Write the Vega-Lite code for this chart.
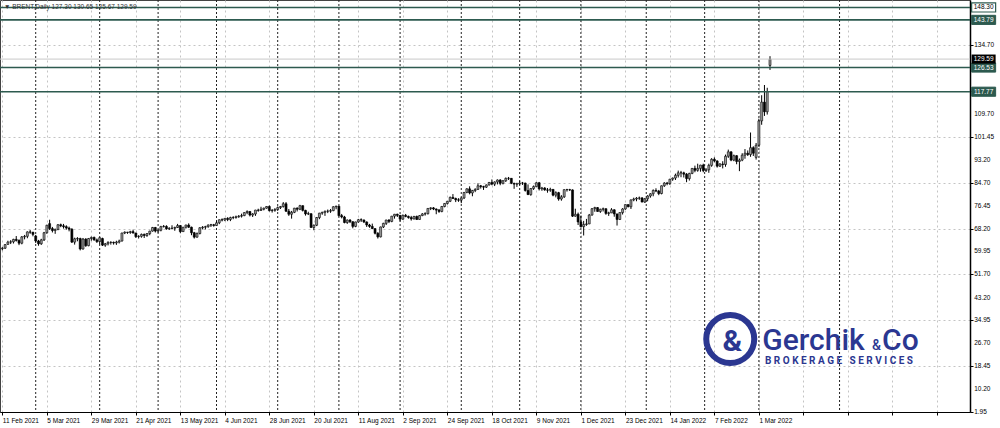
{
  "$schema": "https://vega.github.io/schema/vega-lite/v6.json",
  "width": 970,
  "height": 412,
  "autosize": "none",
  "padding": {"left": 0, "top": 0, "right": 30, "bottom": 16},
  "background": "white",
  "view": {"stroke": "#444", "strokeWidth": 1},
  "config": {"font": "Liberation Sans"},
  "datasets": {
    "candles": [
      {"n":0,"o":60.9,"h":61.5,"l":60.3,"c":61.1},{"n":1,"o":61.1,"h":62.6,"l":60.8,"c":62.4},{"n":2,"o":62.5,"h":63.8,"l":62.3,"c":63.3},{"n":3,"o":63.3,"h":64.0,"l":62.6,"c":63.4},{"n":4,"o":63.4,"h":64.5,"l":62.8,"c":64.3},{"n":5,"o":64.3,"h":65.5,"l":63.5,"c":63.9},{"n":6,"o":63.9,"h":64.3,"l":62.2,"c":62.9},{"n":7,"o":62.9,"h":65.5,"l":62.5,"c":65.2},{"n":8,"o":65.2,"h":65.9,"l":64.3,"c":65.4},{"n":9,"o":65.4,"h":67.2,"l":64.7,"c":67.0},{"n":10,"o":67.0,"h":67.7,"l":66.3,"c":66.9},{"n":11,"o":66.9,"h":67.0,"l":65.4,"c":66.1},
      {"n":12,"o":65.5,"h":65.9,"l":63.0,"c":63.7},{"n":13,"o":63.7,"h":64.1,"l":62.0,"c":62.7},{"n":14,"o":62.7,"h":64.5,"l":62.3,"c":64.1},{"n":15,"o":64.1,"h":67.0,"l":63.7,"c":66.7},{"n":16,"o":66.7,"h":69.6,"l":66.3,"c":69.4},{"n":17,"o":70.0,"h":71.4,"l":67.7,"c":68.2},{"n":18,"o":68.2,"h":68.8,"l":66.8,"c":67.5},{"n":19,"o":67.5,"h":68.2,"l":66.3,"c":67.9},{"n":20,"o":67.9,"h":69.8,"l":67.6,"c":69.6},{"n":21,"o":69.6,"h":70.0,"l":68.7,"c":69.2},{"n":22,"o":69.2,"h":69.9,"l":68.2,"c":68.9},{"n":23,"o":68.9,"h":69.4,"l":67.8,"c":68.4},{"n":24,"o":68.4,"h":68.9,"l":67.2,"c":68.0},{"n":25,"o":68.0,"h":68.3,"l":63.0,"c":63.3},{"n":26,"o":63.3,"h":64.9,"l":62.4,"c":64.5},{"n":27,"o":64.5,"h":65.1,"l":63.6,"c":64.6},{"n":28,"o":64.6,"h":64.9,"l":60.3,"c":60.8},{"n":29,"o":60.8,"h":64.8,"l":60.6,"c":64.4},{"n":30,"o":64.4,"h":64.7,"l":61.6,"c":62.0},{"n":31,"o":62.0,"h":64.8,"l":61.8,"c":64.6},{"n":32,"o":64.6,"h":65.3,"l":63.8,"c":65.0},{"n":33,"o":65.0,"h":65.3,"l":63.8,"c":64.1},{"n":34,"o":64.1,"h":64.6,"l":63.0,"c":63.5},
      {"n":35,"o":63.5,"h":65.0,"l":62.5,"c":64.9},{"n":36,"o":64.6,"h":64.9,"l":61.9,"c":62.2},{"n":37,"o":62.2,"h":63.0,"l":61.6,"c":62.7},{"n":38,"o":62.7,"h":63.6,"l":62.1,"c":63.2},{"n":39,"o":63.2,"h":63.6,"l":62.4,"c":63.2},{"n":40,"o":63.2,"h":63.5,"l":62.4,"c":63.0},{"n":41,"o":63.0,"h":63.8,"l":62.3,"c":63.3},{"n":42,"o":63.3,"h":64.2,"l":62.8,"c":63.7},{"n":43,"o":63.7,"h":66.7,"l":63.5,"c":66.6},{"n":44,"o":66.6,"h":67.2,"l":66.2,"c":66.9},{"n":45,"o":66.9,"h":67.0,"l":66.3,"c":66.8},{"n":46,"o":66.8,"h":67.4,"l":66.3,"c":67.1},{"n":47,"o":67.1,"h":67.8,"l":66.4,"c":66.6},{"n":48,"o":66.6,"h":66.7,"l":64.8,"c":65.3},{"n":49,"o":65.3,"h":65.8,"l":64.6,"c":65.4},{"n":50,"o":65.4,"h":66.4,"l":64.9,"c":66.1},{"n":51,"o":66.1,"h":66.4,"l":64.8,"c":65.7},{"n":52,"o":65.7,"h":66.6,"l":65.2,"c":66.4},{"n":53,"o":66.4,"h":67.4,"l":65.8,"c":67.3},{"n":54,"o":67.3,"h":68.8,"l":67.1,"c":68.6},{"n":55,"o":68.6,"h":68.8,"l":66.8,"c":67.3},
      {"n":56,"o":67.3,"h":67.9,"l":66.7,"c":67.6},{"n":57,"o":67.6,"h":69.2,"l":67.2,"c":68.9},{"n":58,"o":68.9,"h":69.5,"l":68.6,"c":69.0},{"n":59,"o":69.0,"h":69.4,"l":67.8,"c":68.1},{"n":60,"o":68.1,"h":68.7,"l":67.7,"c":68.3},{"n":61,"o":68.3,"h":69.4,"l":67.9,"c":68.3},{"n":62,"o":68.3,"h":68.9,"l":67.4,"c":68.6},{"n":63,"o":68.6,"h":69.9,"l":68.4,"c":69.3},{"n":64,"o":69.3,"h":69.5,"l":66.5,"c":67.1},{"n":65,"o":67.1,"h":68.8,"l":67.0,"c":68.7},{"n":66,"o":68.7,"h":69.6,"l":68.2,"c":69.5},{"n":67,"o":69.5,"h":70.1,"l":68.4,"c":68.7},{"n":68,"o":68.7,"h":68.9,"l":65.8,"c":66.7},{"n":69,"o":66.7,"h":67.0,"l":64.6,"c":65.1},{"n":70,"o":65.1,"h":66.8,"l":64.9,"c":66.4},{"n":71,"o":66.4,"h":68.7,"l":66.1,"c":68.5},{"n":72,"o":68.5,"h":69.1,"l":67.9,"c":68.7},{"n":73,"o":68.7,"h":69.2,"l":67.9,"c":68.9},{"n":74,"o":68.9,"h":69.7,"l":68.5,"c":69.5},{"n":75,"o":69.5,"h":69.9,"l":68.8,"c":69.6},{"n":76,"o":69.6,"h":69.9,"l":68.9,"c":69.3},
      {"n":77,"o":69.3,"h":71.0,"l":69.2,"c":70.3},{"n":78,"o":70.3,"h":71.5,"l":69.8,"c":71.4},{"n":79,"o":71.4,"h":71.9,"l":70.8,"c":71.3},{"n":80,"o":71.3,"h":72.0,"l":70.9,"c":71.9},{"n":81,"o":71.9,"h":72.3,"l":70.9,"c":71.5},{"n":82,"o":71.5,"h":72.5,"l":70.9,"c":72.2},{"n":83,"o":72.2,"h":72.7,"l":71.6,"c":72.2},{"n":84,"o":72.2,"h":72.9,"l":71.8,"c":72.5},{"n":85,"o":72.5,"h":73.1,"l":72.1,"c":72.7},{"n":86,"o":72.7,"h":73.6,"l":72.2,"c":72.9},{"n":87,"o":72.9,"h":74.1,"l":72.7,"c":74.0},{"n":88,"o":74.0,"h":74.8,"l":73.4,"c":74.4},{"n":89,"o":74.4,"h":74.5,"l":72.6,"c":73.1},{"n":90,"o":73.1,"h":73.8,"l":72.4,"c":73.5},{"n":91,"o":73.5,"h":75.0,"l":72.8,"c":74.9},{"n":92,"o":74.9,"h":75.4,"l":74.3,"c":74.8},{"n":93,"o":74.8,"h":76.1,"l":74.6,"c":75.2},{"n":94,"o":75.2,"h":75.8,"l":74.8,"c":75.6},{"n":95,"o":75.6,"h":76.3,"l":75.4,"c":76.2},{"n":96,"o":76.2,"h":76.6,"l":74.4,"c":74.7},{"n":97,"o":74.7,"h":75.3,"l":74.0,"c":74.8},{"n":98,"o":74.8,"h":75.6,"l":74.3,"c":75.1},
      {"n":99,"o":75.1,"h":76.2,"l":74.6,"c":75.8},{"n":100,"o":75.8,"h":76.4,"l":75.3,"c":76.2},{"n":101,"o":76.2,"h":77.8,"l":75.8,"c":77.2},{"n":102,"o":77.2,"h":77.8,"l":74.2,"c":74.5},{"n":103,"o":74.5,"h":75.3,"l":72.8,"c":73.4},{"n":104,"o":73.4,"h":74.6,"l":71.8,"c":74.1},{"n":105,"o":74.1,"h":75.7,"l":73.8,"c":75.6},{"n":106,"o":75.6,"h":75.9,"l":74.4,"c":75.2},{"n":107,"o":75.2,"h":76.8,"l":74.9,"c":76.5},{"n":108,"o":76.5,"h":76.6,"l":74.4,"c":74.8},{"n":109,"o":74.8,"h":75.0,"l":72.9,"c":73.5},{"n":110,"o":73.5,"h":74.3,"l":73.1,"c":73.6},{"n":111,"o":73.6,"h":73.7,"l":68.5,"c":68.6},{"n":112,"o":68.6,"h":69.7,"l":67.6,"c":69.4},{"n":113,"o":69.4,"h":72.4,"l":69.1,"c":72.2},{"n":114,"o":72.2,"h":73.9,"l":71.6,"c":73.8},{"n":115,"o":73.8,"h":74.3,"l":73.2,"c":74.1},{"n":116,"o":74.1,"h":74.7,"l":72.8,"c":74.5},{"n":117,"o":74.5,"h":75.1,"l":73.8,"c":74.5},{"n":118,"o":74.5,"h":75.3,"l":73.9,"c":74.7},{"n":119,"o":74.7,"h":76.3,"l":74.5,"c":76.1},{"n":120,"o":76.1,"h":76.5,"l":75.2,"c":76.3},
      {"n":121,"o":76.3,"h":76.4,"l":72.6,"c":72.9},{"n":122,"o":72.9,"h":73.5,"l":71.9,"c":72.4},{"n":123,"o":72.4,"h":72.8,"l":70.1,"c":70.4},{"n":124,"o":70.4,"h":71.5,"l":69.9,"c":71.3},{"n":125,"o":71.3,"h":71.6,"l":70.2,"c":70.7},{"n":126,"o":70.7,"h":70.8,"l":68.3,"c":69.0},{"n":127,"o":69.0,"h":70.7,"l":68.7,"c":70.6},{"n":128,"o":70.6,"h":71.7,"l":70.3,"c":71.4},{"n":129,"o":71.4,"h":71.9,"l":70.6,"c":71.3},{"n":130,"o":71.3,"h":71.5,"l":70.2,"c":70.6},{"n":131,"o":70.6,"h":70.8,"l":68.8,"c":69.5},{"n":132,"o":69.5,"h":69.9,"l":68.5,"c":69.0},{"n":133,"o":69.0,"h":70.0,"l":68.0,"c":68.2},{"n":134,"o":68.2,"h":68.3,"l":66.1,"c":66.5},{"n":135,"o":66.5,"h":66.9,"l":64.6,"c":65.2},{"n":136,"o":65.2,"h":68.9,"l":65.0,"c":68.8},{"n":137,"o":68.8,"h":70.3,"l":68.4,"c":70.1},{"n":138,"o":70.1,"h":71.4,"l":69.5,"c":71.3},{"n":139,"o":71.3,"h":71.6,"l":70.2,"c":70.8},{"n":140,"o":70.8,"h":72.8,"l":70.5,"c":72.7},{"n":141,"o":72.7,"h":73.5,"l":71.8,"c":73.4},{"n":142,"o":73.4,"h":73.6,"l":72.4,"c":73.0},
      {"n":143,"o":73.0,"h":73.1,"l":70.8,"c":71.6},{"n":144,"o":71.6,"h":73.3,"l":71.4,"c":73.0},{"n":145,"o":73.0,"h":73.5,"l":72.3,"c":72.6},{"n":146,"o":72.6,"h":72.9,"l":71.8,"c":72.2},{"n":147,"o":72.2,"h":72.8,"l":71.1,"c":71.7},{"n":148,"o":71.7,"h":72.8,"l":71.5,"c":72.6},{"n":149,"o":72.6,"h":72.9,"l":71.3,"c":71.5},{"n":150,"o":71.5,"h":73.1,"l":71.4,"c":72.9},{"n":151,"o":72.9,"h":73.8,"l":72.7,"c":73.5},{"n":152,"o":73.5,"h":74.1,"l":72.9,"c":73.6},{"n":153,"o":73.6,"h":75.6,"l":73.3,"c":75.5},{"n":154,"o":75.5,"h":75.9,"l":74.9,"c":75.7},{"n":155,"o":75.7,"h":76.0,"l":74.9,"c":75.3},{"n":156,"o":75.3,"h":75.5,"l":73.4,"c":74.9},{"n":157,"o":74.9,"h":75.3,"l":73.9,"c":74.4},{"n":158,"o":74.4,"h":76.4,"l":74.1,"c":76.2},{"n":159,"o":76.2,"h":77.4,"l":75.9,"c":77.3},{"n":160,"o":77.3,"h":78.2,"l":76.9,"c":78.1},{"n":161,"o":78.1,"h":79.8,"l":77.8,"c":79.5},{"n":162,"o":79.5,"h":80.7,"l":78.9,"c":79.1},{"n":163,"o":79.1,"h":79.4,"l":77.8,"c":78.6},{"n":164,"o":78.6,"h":79.2,"l":77.9,"c":78.5},
      {"n":165,"o":78.5,"h":79.4,"l":77.4,"c":79.3},{"n":166,"o":79.3,"h":81.4,"l":78.9,"c":81.3},{"n":167,"o":81.3,"h":82.8,"l":81.0,"c":82.6},{"n":168,"o":82.6,"h":83.5,"l":80.6,"c":81.1},{"n":169,"o":81.1,"h":82.2,"l":79.9,"c":82.0},{"n":170,"o":82.0,"h":82.8,"l":81.4,"c":82.4},{"n":171,"o":82.4,"h":84.6,"l":82.2,"c":83.7},{"n":172,"o":83.7,"h":84.0,"l":82.7,"c":83.4},{"n":173,"o":83.4,"h":83.7,"l":82.2,"c":83.2},{"n":174,"o":83.2,"h":84.2,"l":82.9,"c":84.0},{"n":175,"o":84.0,"h":85.1,"l":83.8,"c":84.9},{"n":176,"o":84.9,"h":86.0,"l":83.9,"c":84.3},{"n":177,"o":84.3,"h":85.3,"l":83.6,"c":85.1},{"n":178,"o":85.1,"h":86.0,"l":84.2,"c":85.8},{"n":179,"o":85.8,"h":86.1,"l":83.9,"c":84.6},{"n":180,"o":84.6,"h":85.8,"l":84.2,"c":85.5},{"n":181,"o":85.5,"h":86.7,"l":85.1,"c":86.4},{"n":182,"o":86.4,"h":86.9,"l":85.8,"c":86.4},{"n":183,"o":86.4,"h":86.5,"l":84.3,"c":84.6},{"n":184,"o":84.6,"h":84.8,"l":82.6,"c":84.3},{"n":185,"o":84.3,"h":84.8,"l":83.3,"c":84.4},
      {"n":186,"o":84.4,"h":85.5,"l":83.9,"c":84.7},{"n":187,"o":84.7,"h":85.1,"l":84.0,"c":84.7},{"n":188,"o":84.7,"h":84.8,"l":81.6,"c":82.0},{"n":189,"o":82.0,"h":84.2,"l":80.4,"c":80.5},{"n":190,"o":80.5,"h":82.9,"l":80.1,"c":82.7},{"n":191,"o":82.7,"h":83.8,"l":82.2,"c":83.4},{"n":192,"o":83.4,"h":85.0,"l":83.2,"c":84.8},{"n":193,"o":84.8,"h":85.1,"l":82.0,"c":82.6},{"n":194,"o":82.6,"h":83.3,"l":81.9,"c":82.9},{"n":195,"o":82.9,"h":83.2,"l":81.9,"c":82.2},{"n":196,"o":82.2,"h":82.9,"l":81.2,"c":82.1},{"n":197,"o":82.1,"h":83.0,"l":81.5,"c":82.4},{"n":198,"o":82.4,"h":82.5,"l":79.9,"c":80.3},{"n":199,"o":80.3,"h":81.7,"l":79.5,"c":81.2},{"n":200,"o":81.2,"h":81.5,"l":78.3,"c":78.9},{"n":201,"o":78.9,"h":80.3,"l":78.3,"c":79.7},{"n":202,"o":79.7,"h":82.4,"l":79.3,"c":82.3},{"n":203,"o":82.3,"h":82.6,"l":81.6,"c":82.3},{"n":204,"o":82.3,"h":82.6,"l":81.8,"c":82.2},{"n":205,"o":82.2,"h":82.4,"l":72.4,"c":72.7},{"n":206,"o":72.7,"h":75.4,"l":72.5,"c":73.4},{"n":207,"o":73.4,"h":74.0,"l":69.5,"c":70.6},
      {"n":208,"o":70.6,"h":72.9,"l":68.6,"c":68.9},{"n":209,"o":68.9,"h":71.0,"l":65.7,"c":69.7},{"n":210,"o":69.7,"h":71.7,"l":69.2,"c":69.9},{"n":211,"o":69.9,"h":73.5,"l":69.8,"c":73.1},{"n":212,"o":73.1,"h":75.6,"l":72.9,"c":75.4},{"n":213,"o":75.4,"h":76.1,"l":74.3,"c":75.8},{"n":214,"o":75.8,"h":76.0,"l":74.3,"c":74.4},{"n":215,"o":74.4,"h":75.4,"l":73.9,"c":75.2},{"n":216,"o":75.2,"h":75.8,"l":74.4,"c":75.4},{"n":217,"o":75.4,"h":75.5,"l":73.2,"c":73.7},{"n":218,"o":73.7,"h":74.3,"l":72.8,"c":73.9},{"n":219,"o":73.9,"h":75.6,"l":73.8,"c":75.0},{"n":220,"o":75.0,"h":75.2,"l":72.5,"c":73.5},{"n":221,"o":73.5,"h":73.6,"l":69.3,"c":71.5},{"n":222,"o":71.5,"h":74.1,"l":71.3,"c":74.0},{"n":223,"o":74.0,"h":75.6,"l":73.3,"c":75.3},{"n":224,"o":75.3,"h":76.9,"l":75.0,"c":76.9},{"n":225,"o":76.9,"h":76.9,"l":75.9,"c":76.1},{"n":226,"o":76.1,"h":78.7,"l":75.3,"c":78.6},{"n":227,"o":78.6,"h":79.4,"l":78.1,"c":78.9},{"n":228,"o":78.9,"h":79.6,"l":78.1,"c":79.2},{"n":229,"o":79.2,"h":79.8,"l":78.6,"c":79.3},{"n":230,"o":79.3,"h":79.6,"l":77.8,"c":77.8},
      {"n":231,"o":77.8,"h":79.3,"l":77.5,"c":79.0},{"n":232,"o":79.0,"h":80.3,"l":78.1,"c":80.0},{"n":233,"o":80.0,"h":81.0,"l":79.4,"c":80.8},{"n":234,"o":80.8,"h":82.4,"l":79.9,"c":82.0},{"n":235,"o":82.0,"h":82.8,"l":81.4,"c":81.8},{"n":236,"o":81.8,"h":82.2,"l":80.3,"c":80.9},{"n":237,"o":80.9,"h":83.8,"l":80.6,"c":83.7},{"n":238,"o":83.7,"h":85.0,"l":83.3,"c":84.7},{"n":239,"o":84.7,"h":85.1,"l":83.9,"c":84.5},{"n":240,"o":84.5,"h":86.2,"l":84.0,"c":86.1},{"n":241,"o":86.1,"h":86.7,"l":85.5,"c":86.5},{"n":242,"o":86.5,"h":88.1,"l":85.8,"c":87.5},{"n":243,"o":87.5,"h":89.2,"l":86.7,"c":88.4},{"n":244,"o":88.4,"h":89.1,"l":86.8,"c":88.4},{"n":245,"o":88.4,"h":88.8,"l":86.7,"c":87.9},{"n":246,"o":87.9,"h":88.3,"l":85.0,"c":86.3},{"n":247,"o":86.3,"h":88.4,"l":85.6,"c":88.2},{"n":248,"o":88.2,"h":90.1,"l":87.9,"c":90.0},{"n":249,"o":90.0,"h":91.0,"l":88.6,"c":89.3},{"n":250,"o":89.3,"h":91.7,"l":88.8,"c":90.0},{"n":251,"o":90.0,"h":91.3,"l":88.8,"c":91.2},
      {"n":252,"o":91.2,"h":91.7,"l":88.6,"c":89.2},{"n":253,"o":89.2,"h":90.1,"l":88.7,"c":89.5},{"n":254,"o":89.5,"h":91.7,"l":88.4,"c":91.1},{"n":255,"o":91.1,"h":93.7,"l":90.6,"c":93.3},{"n":256,"o":93.3,"h":94.0,"l":92.2,"c":92.7},{"n":257,"o":92.7,"h":92.9,"l":90.3,"c":90.8},{"n":258,"o":90.8,"h":91.9,"l":90.5,"c":91.6},{"n":259,"o":91.6,"h":92.6,"l":90.0,"c":91.4},{"n":260,"o":91.4,"h":95.0,"l":90.6,"c":94.4},{"n":261,"o":94.4,"h":96.8,"l":93.8,"c":96.0},{"n":262,"o":96.0,"h":96.2,"l":92.6,"c":93.0},{"n":263,"o":93.0,"h":95.0,"l":92.6,"c":94.6},{"n":264,"o":94.6,"h":94.8,"l":91.5,"c":92.5},{"n":265,"o":92.5,"h":93.6,"l":89.0,"c":93.0},{"n":266,"o":93.0,"h":95.5,"l":92.6,"c":94.8},{"n":267,"o":94.8,"h":97.0,"l":93.5,"c":95.5},{"n":268,"o":95.5,"h":96.5,"l":94.5,"c":95.0},{"n":269,"o":95.0,"h":103.0,"l":94.2,"c":97.5},{"n":270,"o":97.5,"h":98.0,"l":94.5,"c":95.5},{"n":271,"o":94.0,"h":99.2,"l":93.2,"c":98.4},
      {"n":272,"o":98.4,"h":108.0,"l":97.8,"c":107.2},{"n":273,"o":107.2,"h":116.5,"l":105.8,"c":114.0},{"n":274,"o":114.0,"h":120.2,"l":109.0,"c":110.5},{"n":275,"o":110.5,"h":119.2,"l":109.5,"c":117.8},{"n":276,"o":127.3,"h":130.65,"l":125.67,"c":129.59}
    ],
    "levels": [{"p": 148.30, "t": "148.30"}, {"p": 143.79, "t": "143.79"}, {"p": 126.53, "t": "126.53"}, {"p": 117.77, "t": "117.77"}],
    "yticks": [{"v": 1.95, "t": "1.95"}, {"v": 10.2, "t": "10.20"}, {"v": 18.45, "t": "18.45"}, {"v": 26.7, "t": "26.70"}, {"v": 34.95, "t": "34.95"}, {"v": 43.2, "t": "43.20"}, {"v": 51.7, "t": "51.70"}, {"v": 59.95, "t": "59.95"}, {"v": 68.2, "t": "68.20"}, {"v": 76.45, "t": "76.45"}, {"v": 84.7, "t": "84.70"}, {"v": 93.2, "t": "93.20"}, {"v": 101.45, "t": "101.45"}, {"v": 109.7, "t": "109.70"}, {"v": 134.7, "t": "134.70"}],
    "seps": [{"n": 12}, {"n": 35}, {"n": 56}, {"n": 77}, {"n": 99}, {"n": 121}, {"n": 143}, {"n": 165}, {"n": 186}, {"n": 208}, {"n": 231.5}, {"n": 252.5}, {"n": 272}, {"n": 301}],
    "one": [{}]
  },
  "layer": [
    {
      "data": {"name": "seps"},
      "mark": {"type": "rule", "color": "#222", "strokeWidth": 1, "strokeDash": [2, 2]},
      "encoding": {
        "x": {"field": "n", "type": "quantitative",
          "scale": {"domain": [-0.84, 347.9], "nice": false, "zero": false, "padding": 0},
          "axis": {
            "values": [0,16,32,48,64,80,96,112,128,144,160,176,192,208,224,240,256,272,288,304,320,336],
            "labelExpr": "datum.value > 272 ? '' : ['11 Feb 2021','5 Mar 2021','29 Mar 2021','21 Apr 2021','13 May 2021','4 Jun 2021','28 Jun 2021','20 Jul 2021','11 Aug 2021','2 Sep 2021','24 Sep 2021','18 Oct 2021','9 Nov 2021','1 Dec 2021','23 Dec 2021','14 Jan 2022','7 Feb 2022','1 Mar 2022'][round(datum.value/16)]",
            "title": null, "grid": true, "gridColor": "#c4c4c4", "gridDash": [2, 3], "gridWidth": 1,
            "domainColor": "#000", "tickColor": "#000", "tickSize": 3,
            "labelAlign": "left", "labelFontSize": 6.5, "labelColor": "#000", "labelPadding": 2,
            "labelFlush": false, "labelOverlap": false, "labelBound": false
          }
        }
      }
    },
    {
      "data": {"name": "candles"},
      "mark": {"type": "rule", "color": "#000", "strokeWidth": 1},
      "encoding": {
        "x": {"field": "n", "type": "quantitative"},
        "y": {"field": "l", "type": "quantitative",
          "scale": {"domain": [1.77, 150.99], "nice": false, "zero": false, "padding": 0},
          "axis": {
            "orient": "right", "title": null, "labels": false,
            "values": [1.95, 10.2, 18.45, 26.7, 34.95, 43.2, 51.7, 59.95, 68.2, 76.45, 84.7, 93.2, 101.45, 109.7, 117.95, 126.2, 134.7, 142.95],
            "grid": true, "gridColor": "#c4c4c4", "gridDash": [2, 3], "gridWidth": 1,
            "domainColor": "#000", "domainWidth": 1.5, "tickColor": "#000", "tickSize": 3
          }
        },
        "y2": {"field": "h"}
      }
    },
    {
      "data": {"name": "candles"},
      "mark": {"type": "bar", "width": 2, "stroke": "#000", "strokeWidth": 0.6},
      "encoding": {
        "x": {"field": "n", "type": "quantitative"},
        "y": {"field": "o", "type": "quantitative"},
        "y2": {"field": "c"},
        "color": {"condition": {"test": "datum.c >= datum.o", "value": "#9c9c9c"}, "value": "#000"}
      }
    },
    {
      "data": {"name": "yticks"},
      "mark": {"type": "text", "fontSize": 6.5, "align": "left", "baseline": "middle", "color": "#000"},
      "encoding": {"x": {"datum": 349.4}, "y": {"field": "v", "type": "quantitative"}, "text": {"field": "t"}}
    },
    {
      "data": {"name": "levels"},
      "mark": {"type": "rule", "color": "#2d5a4f", "strokeWidth": 1.6},
      "encoding": {"y": {"field": "p", "type": "quantitative"}}
    },
    {
      "data": {"name": "one"},
      "mark": {"type": "rule", "color": "#c8c8c8", "strokeWidth": 1},
      "encoding": {"y": {"datum": 129.59}}
    },
    {
      "data": {"name": "levels"},
      "transform": [{"filter": "datum.p != 148.3"}],
      "mark": {"type": "point", "shape": "M-1,-0.38H1V0.38H-1Z", "size": 576, "filled": true, "fill": "#2d5a4f", "stroke": "#2d5a4f", "strokeWidth": 1, "opacity": 1},
      "encoding": {"x": {"datum": 352.8}, "y": {"field": "p", "type": "quantitative"}}
    },
    {
      "data": {"name": "levels"},
      "transform": [{"filter": "datum.p == 148.3"}],
      "mark": {"type": "point", "shape": "M-1,-0.38H1V0.38H-1Z", "size": 576, "filled": true, "fill": "#ffffff", "stroke": "#2d5a4f", "strokeWidth": 1.2, "opacity": 1},
      "encoding": {"x": {"datum": 352.8}, "y": {"field": "p", "type": "quantitative"}}
    },
    {
      "data": {"name": "levels"},
      "mark": {"type": "text", "fontSize": 6.5, "align": "center", "baseline": "middle"},
      "encoding": {
        "x": {"datum": 352.8}, "y": {"field": "p", "type": "quantitative"},
        "text": {"field": "t"},
        "color": {"condition": {"test": "datum.p == 148.3", "value": "#000"}, "value": "#ffffff"}
      }
    },
    {
      "data": {"name": "one"},
      "mark": {"type": "point", "shape": "M-1,-0.38H1V0.38H-1Z", "size": 576, "filled": true, "fill": "#000", "opacity": 1},
      "encoding": {"x": {"datum": 352.8}, "y": {"datum": 129.59}}
    },
    {
      "data": {"name": "one"},
      "mark": {"type": "text", "fontSize": 6.5, "align": "center", "baseline": "middle", "color": "#fff"},
      "encoding": {"x": {"datum": 352.8}, "y": {"datum": 129.59}, "text": {"value": "129.59"}}
    },
    {
      "data": {"name": "one"},
      "mark": {"type": "text", "fontSize": 6.5, "align": "left", "baseline": "middle", "color": "#333"},
      "encoding": {"x": {"datum": 0.6}, "y": {"datum": 148.4}, "text": {"value": "▼ BRENT,Daily  127.30 130.65 125.67 129.59"}}
    },
    {
      "data": {"name": "one"},
      "mark": {"type": "point", "shape": "circle", "size": 2304, "filled": false, "stroke": "#2b3791", "strokeWidth": 6, "opacity": 1},
      "encoding": {"x": {"datum": 261.7}, "y": {"datum": 28.2}}
    },
    {
      "data": {"name": "one"},
      "mark": {"type": "text", "font": "Roboto", "fontSize": 30, "fontWeight": "bold", "align": "center", "baseline": "middle", "color": "#2b3791"},
      "encoding": {"x": {"datum": 262.5}, "y": {"datum": 27.0}, "text": {"value": "&"}}
    },
    {
      "data": {"name": "one"},
      "mark": {"type": "text", "font": "Roboto", "fontSize": 30, "fontWeight": 500, "align": "left", "baseline": "alphabetic", "color": "#2b3791"},
      "encoding": {"x": {"datum": 273.2}, "y": {"datum": 24.2}, "text": {"value": "Gerchik"}}
    },
    {
      "data": {"name": "one"},
      "mark": {"type": "text", "font": "Roboto", "fontSize": 14, "fontWeight": 500, "align": "left", "baseline": "alphabetic", "color": "#2b3791"},
      "encoding": {"x": {"datum": 312.7}, "y": {"datum": 24.2}, "text": {"value": "&"}}
    },
    {
      "data": {"name": "one"},
      "mark": {"type": "text", "font": "Roboto", "fontSize": 30, "fontWeight": 500, "align": "left", "baseline": "alphabetic", "color": "#2b3791"},
      "encoding": {"x": {"datum": 316.3}, "y": {"datum": 24.2}, "text": {"value": "Co"}}
    },
    {
      "data": {"name": "one"},
      "mark": {"type": "text", "font": "Roboto", "fontSize": 10, "fontWeight": "bold", "align": "left", "baseline": "middle", "color": "#2b3791"},
      "encoding": {"x": {"datum": 274.2}, "y": {"datum": 20.2}, "text": {"value": "B R O K E R A G E\u00a0\u00a0\u00a0S E R V I C E S"}}
    }
  ]
}
